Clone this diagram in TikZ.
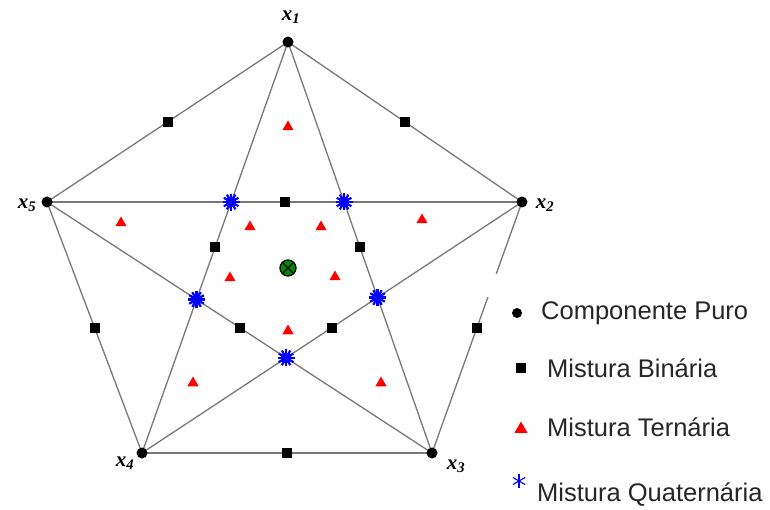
\documentclass[tikz,border=0pt]{standalone}
\usepackage{fontspec}
\setmainfont{Liberation Sans}
\newfontfamily\lblfont{Liberation Serif}
\usetikzlibrary{shapes.geometric,calc}
\definecolor{edgegray}{RGB}{120,120,120}
\definecolor{ctrgreen}{RGB}{0,140,0}
\tikzset{
  edge/.style={draw=edgegray, line width=1.3pt},
  pure/.style={circle, fill=black, inner sep=0pt, minimum size=11pt},
  binary/.style={rectangle, fill=black, inner sep=0pt, minimum size=10pt},
  ternary/.style={regular polygon, regular polygon sides=3, fill=red, inner sep=0pt, minimum size=13pt},
  vlabel/.style={font=\lblfont\fontsize{21}{21}\selectfont\bfseries\itshape, inner sep=0pt},
  legtext/.style={anchor=west, font=\fontsize{25.5}{30}\selectfont, inner sep=0pt, text=black!85},
  qstar/.pic={
    \fill[blue] (0,0) circle (5.5pt);
    \foreach \a in {0,30,...,150}
      \draw[blue, line width=2.2pt] (\a:8.5pt) -- (\a+180:8.5pt);
  },
  legstar/.pic={
    \foreach \a in {90,150,210}
      \draw[blue, line width=1.1pt] (\a:7pt) -- (\a+180:7pt);
  }
}
\begin{document}
\begin{tikzpicture}[x=1pt, y=-1pt]
\useasboundingbox[fill=white] (0,0) rectangle (770,510);
% vertices
\coordinate (v1) at (288,42);
\coordinate (v2) at (522,202);
\coordinate (v3) at (432,453);
\coordinate (v4) at (142,453);
\coordinate (v5) at (47,202);
% edges of pentagon
\draw[edge] (v1) -- (v2);
\draw[edge] (v2) -- (v3);
\draw[edge] (v3) -- (v4);
\draw[edge] (v4) -- (v5);
\draw[edge] (v5) -- (v1);
% diagonals
\draw[edge] (v1) -- (v3);
\draw[edge] (v1) -- (v4);
\draw[edge] (v2) -- (v4);
\draw[edge] (v2) -- (v5);
\draw[edge] (v3) -- (v5);
% gap where the legend covers the edge
\fill[white] (482,274) rectangle (506,297);
% pure components
\foreach \v in {v1,v2,v3,v4,v5}
  \node[pure] (p\v) at (\v) {};
% labels
\node[vlabel] (l1) at (291,17) {x\textsubscript{1}};
\node[vlabel] (l2) at (545,205) {x\textsubscript{2}};
\node[vlabel] (l3) at (456,466) {x\textsubscript{3}};
\node[vlabel] (l4) at (125,463) {x\textsubscript{4}};
\node[vlabel] (l5) at (27,205) {x\textsubscript{5}};
% binary mixtures (edge midpoints)
\node[binary] (b12) at ($(v1)!0.5!(v2)$) {};
\node[binary] (b23) at ($(v2)!0.5!(v3)$) {};
\node[binary] (b34) at ($(v3)!0.5!(v4)$) {};
\node[binary] (b45) at ($(v4)!0.5!(v5)$) {};
\node[binary] (b51) at ($(v5)!0.5!(v1)$) {};
\node[binary] (b13) at ($(v1)!0.5!(v3)$) {};
\node[binary] (b14) at ($(v1)!0.5!(v4)$) {};
\node[binary] (b24) at ($(v2)!0.5!(v4)$) {};
\node[binary] (b25) at ($(v2)!0.5!(v5)$) {};
\node[binary] (b35) at ($(v3)!0.5!(v5)$) {};
% ternary mixtures
\node[ternary] (t1) at (288,127) {};
\node[ternary] (t2) at (121,223) {};
\node[ternary] (t3) at (422,220) {};
\node[ternary] (t4) at (250,227) {};
\node[ternary] (t5) at (321,227) {};
\node[ternary] (t6) at (230,278) {};
\node[ternary] (t7) at (335,277) {};
\node[ternary] (t8) at (288,331) {};
\node[ternary] (t9) at (193,383) {};
\node[ternary] (t10) at (381,383) {};
% quaternary mixtures (diagonal intersections)
\coordinate (q1) at (intersection of v5--v2 and v1--v4);
\coordinate (q2) at (intersection of v5--v2 and v1--v3);
\coordinate (q3) at (intersection of v1--v3 and v2--v4);
\coordinate (q4) at (intersection of v2--v4 and v3--v5);
\coordinate (q5) at (intersection of v3--v5 and v1--v4);
\foreach \q in {q1,q2,q3,q4,q5}
  \pic at (\q) {qstar};
% center
\node[circle, fill=ctrgreen, draw=black, line width=1.3pt, minimum size=16pt, inner sep=0pt,
  path picture={\draw[black, line width=1.3pt] (path picture bounding box.north west) -- (path picture bounding box.south east)
   (path picture bounding box.north east) -- (path picture bounding box.south west);}] (c) at (288,268) {};
% legend
\node[pure, minimum size=10pt] (k1) at (517,313) {};
\node[legtext] (k1t) at (541,313) {Componente Puro};
\node[binary] (k2) at (521,368) {};
\node[legtext] (k2t) at (547,368) {Mistura Binária};
\node[ternary, minimum size=15pt] (k3) at (521,429) {};
\node[legtext] (k3t) at (547,427) {Mistura Ternária};
\pic at (519,481) {legstar};
\node[legtext] (k4t) at (537,495) {Mistura Quaternária};
\end{tikzpicture}
\end{document}
